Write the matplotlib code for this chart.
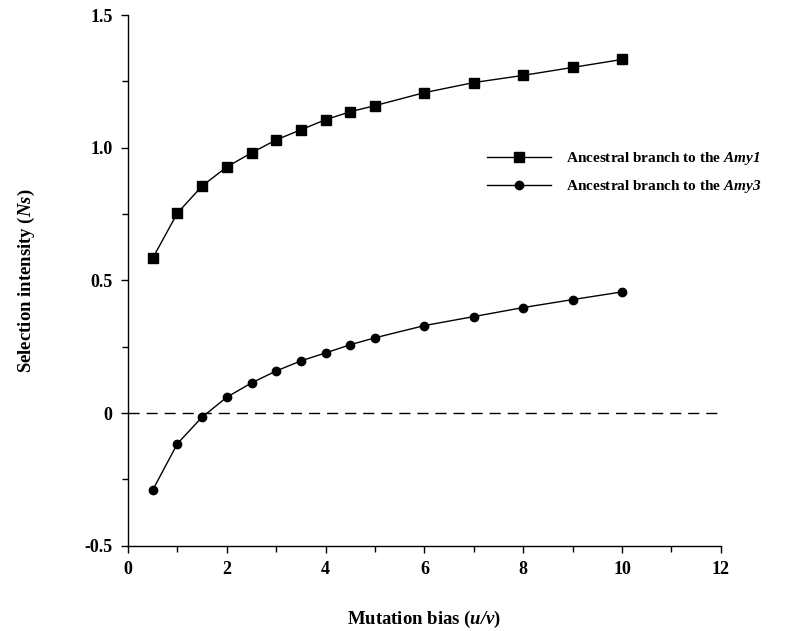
import matplotlib
matplotlib.use("Agg")
import matplotlib.pyplot as plt
from matplotlib.ticker import MultipleLocator, FuncFormatter

plt.rcParams['font.family'] = ['Liberation Serif', 'DejaVu Serif']
plt.rcParams['font.weight'] = 'bold'
plt.rcParams['mathtext.fontset'] = 'custom'
plt.rcParams['mathtext.it'] = 'Liberation Serif:italic:bold'
plt.rcParams['mathtext.rm'] = 'Liberation Serif:italic:bold'
plt.rcParams['axes.unicode_minus'] = False

# data
bias = [0.5, 1, 1.5, 2, 2.5, 3, 3.5, 4, 4.5, 5, 6, 7, 8, 9, 10]
amy1 = [0.584, 0.754, 0.856, 0.928, 0.981, 1.030, 1.068, 1.106, 1.136,
        1.159, 1.208, 1.246, 1.273, 1.303, 1.333]
amy3 = [-0.290, -0.115, -0.015, 0.060, 0.114, 0.159, 0.197, 0.227, 0.258,
        0.284, 0.330, 0.364, 0.398, 0.428, 0.457]

fig = plt.figure(figsize=(8.1, 6.31), dpi=100)
ax = fig.add_axes([0.158, 0.135, 0.732, 0.841])

ax.plot(bias, amy1, color='black', lw=1.0, marker='s', ms=6.5,
        label=r'Ancestral branch to the $Amy1$')
ax.plot(bias, amy3, color='black', lw=1.0, marker='o', ms=6,
        label=r'Ancestral branch to the $Amy3$')
ax.axhline(0, color='black', lw=1.0, ls=(0, (8, 5)))

ax.set_xlim(0, 12)
ax.set_ylim(-0.5, 1.5)
ax.xaxis.set_major_locator(MultipleLocator(2))
ax.xaxis.set_minor_locator(MultipleLocator(1))
ax.yaxis.set_major_locator(MultipleLocator(0.5))
ax.yaxis.set_minor_locator(MultipleLocator(0.25))


def yfmt(v, pos):
    if abs(v) < 1e-9:
        return '0'
    return '%.1f' % v


ax.yaxis.set_major_formatter(FuncFormatter(yfmt))

for s in ['top', 'right']:
    ax.spines[s].set_visible(False)
for s in ['left', 'bottom']:
    ax.spines[s].set_linewidth(1.0)

ax.tick_params(which='major', direction='out', length=5, width=1.0,
               labelsize=13, pad=6)
ax.tick_params(which='minor', direction='out', length=4, width=1.0)
for lab in ax.get_xticklabels() + ax.get_yticklabels():
    lab.set_fontweight('bold')

ax.set_xlabel(r'Mutation bias ($u/v$)', fontsize=13.5, fontweight='bold',
              labelpad=22)
ax.set_ylabel(r'Selection intensity ($Ns$)', fontsize=13.5, fontweight='bold',
              labelpad=34)

ax.legend(loc='upper left', bbox_to_anchor=(0.605, 0.745), frameon=False,
          fontsize=11, handlelength=4.2, handletextpad=1.0, labelspacing=0.7,
          borderpad=0, borderaxespad=0)

fig.savefig('out.png', dpi=100)
